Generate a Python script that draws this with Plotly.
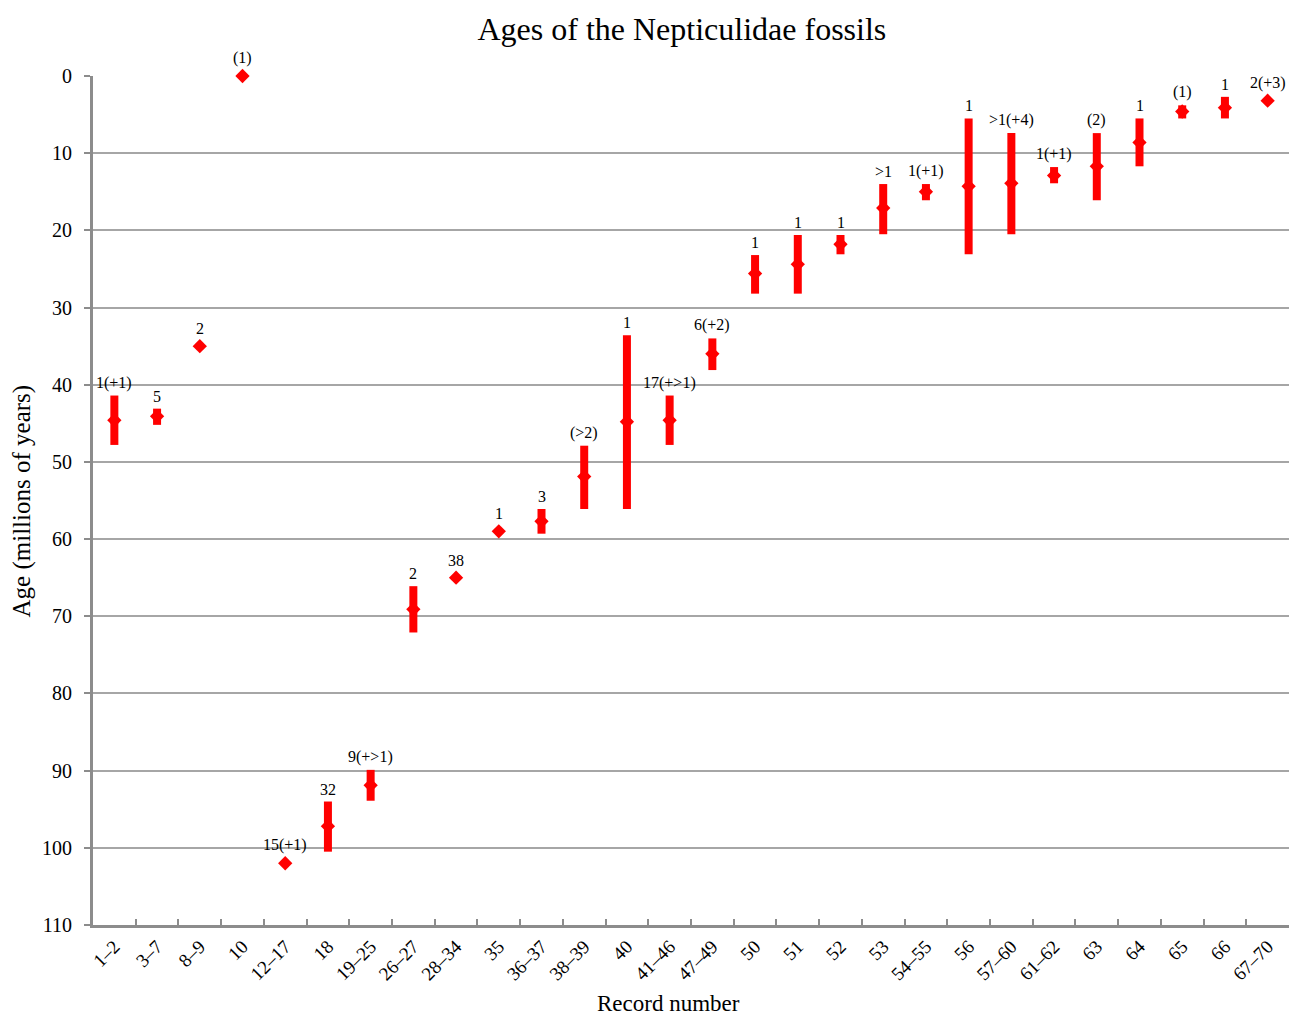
import plotly.graph_objects as go

categories = ["1–2", "3–7", "8–9", "10", "12–17", "18", "19–25", "26–27", "28–34", "35",
              "36–37", "38–39", "40", "41–46", "47–49", "50", "51", "52", "53", "54–55",
              "56", "57–60", "61–62", "63", "64", "65", "66", "67–70"]
age_mid = [44.6, 44.1, 35.0, 0.0, 102.0, 97.2, 91.9, 69.1, 65.0, 59.0,
           57.7, 51.9, 44.8, 44.6, 36.0, 25.6, 24.4, 21.8, 17.1, 15.0,
           14.3, 13.9, 12.9, 11.7, 8.6, 4.6, 4.1, 3.2]
age_young = [41.4, 43.1, None, None, None, 94.0, 89.9, 66.1, None, None,
             56.1, 47.9, 33.6, 41.4, 34.0, 23.2, 20.6, 20.6, 14.0, 14.0,
             5.5, 7.4, 11.8, 7.4, 5.5, 3.8, 2.7, None]
age_old = [47.8, 45.2, None, None, None, 100.5, 93.9, 72.1, None, None,
           59.3, 56.1, 56.1, 47.8, 38.1, 28.2, 28.2, 23.1, 20.5, 16.1,
           23.1, 20.5, 13.9, 16.1, 11.7, 5.5, 5.5, None]
counts = ["1(+1)", "5", "2", "(1)", "15(+1)", "32", "9(+>1)", "2", "38", "1",
          "3", "(>2)", "1", "17(+>1)", "6(+2)", "1", "1", "1", ">1", "1(+1)",
          "1", ">1(+4)", "1(+1)", "(2)", "1", "(1)", "1", "2(+3)"]

err_plus = [(o - m) if o is not None else 0 for o, m in zip(age_old, age_mid)]
err_minus = [(m - y) if y is not None else 0 for y, m in zip(age_young, age_mid)]

RED = "#ff0000"
GRID = "#a6a6a6"
AXIS = "#8c8c8c"
FONT = "Liberation Serif"

fig = go.Figure()
fig.add_trace(go.Scatter(
    x=categories, y=age_mid, mode="markers",
    marker=dict(symbol="diamond", size=11, color=RED, line=dict(width=0)),
    error_y=dict(type="data", symmetric=False, array=err_plus, arrayminus=err_minus,
                 color=RED, thickness=8, width=0),
    showlegend=False, cliponaxis=False, hoverinfo="skip",
))

annotations = []
for i, (m, y, t) in enumerate(zip(age_mid, age_young, counts)):
    top = y if y is not None else m
    annotations.append(dict(
        x=i, y=top, xref="x", yref="y", text=t, showarrow=False,
        xanchor="center", yanchor="bottom",
        yshift=2 if y is not None else 7,
        font=dict(family=FONT, size=16, color="#000000"),
    ))

# axis titles
annotations.append(dict(
    text="Age (millions of years)", xref="paper", yref="paper",
    x=-0.0594, y=0.5, xanchor="center", yanchor="middle", textangle=-90,
    showarrow=False, font=dict(family=FONT, size=25, color="#000000"),
))
annotations.append(dict(
    text="Record number", xref="paper", yref="paper",
    x=0.4816, y=-0.092, xanchor="center", yanchor="middle",
    showarrow=False, font=dict(family=FONT, size=23, color="#000000"),
))

fig.update_layout(
    width=1289, height=1016,
    margin=dict(l=93, r=0, t=76, b=91),
    paper_bgcolor="white", plot_bgcolor="white",
    title=dict(text="Ages of the Nepticulidae fossils", x=0.529, xanchor="center",
               y=0.972, yanchor="middle",
               font=dict(family=FONT, size=32, color="#000000")),
    font=dict(family=FONT, color="#000000"),
    annotations=annotations,
    xaxis=dict(
        type="category", categoryorder="array", categoryarray=categories,
        showgrid=False, showline=True, linecolor=AXIS, linewidth=3,
        ticks="inside", ticklen=6, tickwidth=2, tickcolor=AXIS, tickson="boundaries",
        tickangle=-45, tickfont=dict(family=FONT, size=19, color="#000000"),
        zeroline=False, range=[-0.5, len(categories) - 0.5], automargin=False,
    ),
    yaxis=dict(
        range=[110, 0], tickmode="array", tickvals=list(range(0, 111, 10)),
        showgrid=True, gridcolor=GRID, gridwidth=2,
        showline=True, linecolor=AXIS, linewidth=3,
        ticks="outside", ticklen=6, tickwidth=2, tickcolor=AXIS,
        ticklabelstandoff=8,
        tickfont=dict(family=FONT, size=20, color="#000000"),
        zeroline=False, automargin=False,
    ),
)

fig.write_html("out.html", config={"displayModeBar": False},
               post_script="document.body.style.margin='0';window.dispatchEvent(new Event('resize'));")
